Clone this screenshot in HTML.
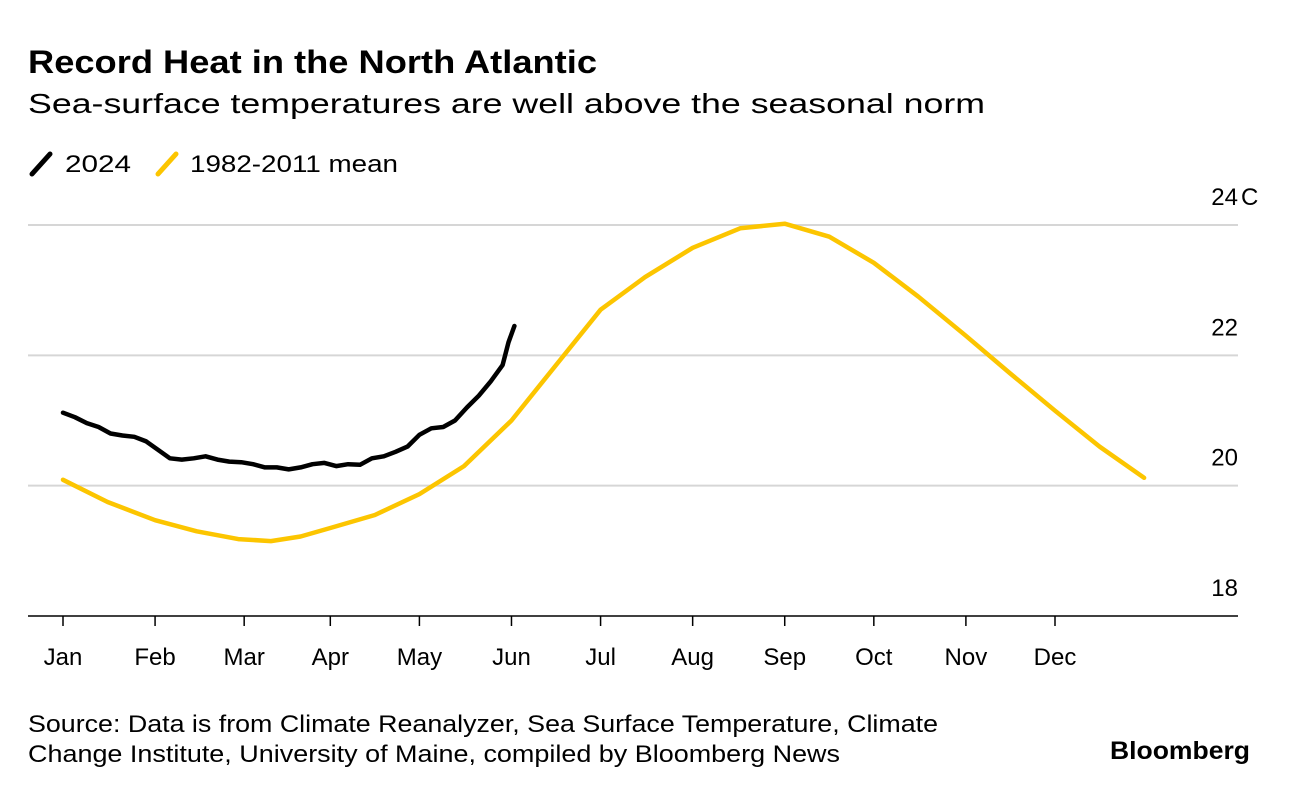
<!DOCTYPE html>
<html><head><meta charset="utf-8">
<style>
body{margin:0;background:#fff;width:1289px;height:794px;overflow:hidden;font-family:"Liberation Sans",Arial,sans-serif;}
svg{display:block}
</style></head>
<body>
<svg id="chart" width="1289" height="794">
<text x="28" y="73" font-size="32" font-weight="bold" fill="#000" textLength="569" lengthAdjust="spacingAndGlyphs">Record Heat in the North Atlantic</text>
<text x="28" y="113" font-size="28" fill="#000" textLength="957" lengthAdjust="spacingAndGlyphs">Sea-surface temperatures are well above the seasonal norm</text>
<g>
<line x1="32" y1="174" x2="50" y2="154" stroke="#000" stroke-width="5" stroke-linecap="round"/>
<text x="65" y="172" font-size="24" textLength="66" lengthAdjust="spacingAndGlyphs">2024</text>
<line x1="158" y1="174" x2="176" y2="154" stroke="#fcc500" stroke-width="5" stroke-linecap="round"/>
<text x="190" y="172" font-size="24" textLength="208" lengthAdjust="spacingAndGlyphs">1982-2011 mean</text>
</g>
<g id="grid"></g><g id="axes"></g><g id="series"></g>
<text x="28" y="732" font-size="24" textLength="910" lengthAdjust="spacingAndGlyphs">Source: Data is from Climate Reanalyzer, Sea Surface Temperature, Climate</text>
<text x="28" y="762" font-size="24" textLength="812" lengthAdjust="spacingAndGlyphs">Change Institute, University of Maine, compiled by Bloomberg News</text>
<text x="1110" y="759" font-size="25" font-weight="bold" textLength="140" lengthAdjust="spacingAndGlyphs">Bloomberg</text>
</svg>
<script>
const months = ["Jan","Feb","Mar","Apr","May","Jun","Jul","Aug","Sep","Oct","Nov","Dec"];
const monthStartDays = [0,31,61,90,120,151,181,212,243,273,304,334];
const yTicks = [18,20,22,24];
const yTickLabels = ["18","20","22","24"];
const days2024 = [0,4,8,12,16,20,24,28,32,36,40,44,48,52,56,60,64,68,72,76,80,84,88,92,96,100,104,108,112,116,120,124,128,132,136,140,144,148];
const vals2024 = [21.12,21.05,20.96,20.9,20.8,20.77,20.75,20.68,20.55,20.42,20.4,20.42,20.45,20.4,20.37,20.36,20.33,20.28,20.28,20.25,20.28,20.33,20.35,20.3,20.33,20.32,20.42,20.45,20.52,20.6,20.78,20.88,20.9,21.0,21.2,21.38,21.6,21.85];
const daysEnd2024 = [150,152];
const valsEnd2024 = [22.2,22.45];
const daysMean = [0,15,31,45,59,70,80,90,105,120,135,151,166,181,196,212,228,243,258,273,288,304,319,334,349,364];
const valsMean = [20.09,19.75,19.47,19.3,19.18,19.15,19.22,19.35,19.55,19.87,20.3,21.0,21.85,22.7,23.2,23.65,23.95,24.02,23.82,23.42,22.9,22.3,21.72,21.15,20.6,20.12];

const NS="http://www.w3.org/2000/svg";
const x = d => 63 + d*(1055-63)/334;
const y = v => 616 - (v-18)*(616-225)/6;
function mk(tag, attrs, parent){const e=document.createElementNS(NS,tag);for(const k in attrs)e.setAttribute(k,attrs[k]);parent.appendChild(e);return e;}
const grid=document.getElementById('grid'), axes=document.getElementById('axes'), series=document.getElementById('series');
yTicks.forEach((t,i)=>{
  if(t!==18){const l=mk('line',{x1:28,x2:1238,y1:y(t),y2:y(t),stroke:'#d6d6d6','stroke-width':2},grid);
  
  }
  const tx=mk('text',{x:1238,y:y(t)-20,'font-size':24,'text-anchor':'end'},axes);
  tx.textContent=yTickLabels[i];
  
  
});
const unit=mk('text',{x:1241,y:y(24)-20,'font-size':24},axes);
unit.textContent='C';


const ax=mk('line',{x1:28,x2:1238,y1:616,y2:616,stroke:'#000','stroke-width':1.5},axes);


months.forEach((m,i)=>{
  const xx=x(monthStartDays[i]);
  const tk=mk('line',{x1:xx,x2:xx,y1:616,y2:626,stroke:'#000','stroke-width':1.5},axes);
  
  
  const t=mk('text',{x:xx,y:665,'font-size':24,'text-anchor':'middle'},axes);
  t.textContent=m;
  
  
});
function path(ds,vs){return ds.map((d,i)=>(i?'L':'M')+x(d).toFixed(1)+','+y(vs[i]).toFixed(1)).join(' ');}
const pm=mk('path',{d:path(daysMean,valsMean),fill:'none',stroke:'#fcc500','stroke-width':4.5,'stroke-linejoin':'round','stroke-linecap':'round'},series);


const pb=mk('path',{d:path(days2024.concat(daysEnd2024),vals2024.concat(valsEnd2024)),fill:'none',stroke:'#000','stroke-width':4.5,'stroke-linejoin':'round','stroke-linecap':'round'},series);


</script>
</body></html>
